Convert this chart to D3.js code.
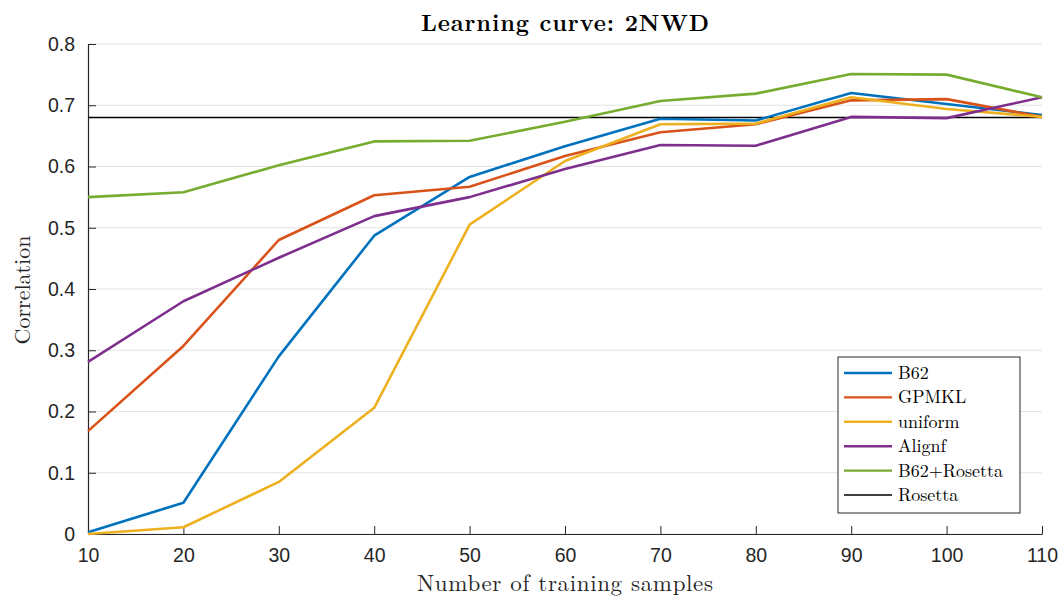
<!DOCTYPE html>
<html>
<head>
<meta charset="utf-8">
<script src="https://d3js.org/d3.v7.min.js"></script>
<style>
  body { margin: 0; background: #fff; }
  .tick text { font-family: "Liberation Sans", Arial, sans-serif; font-size: 19.5px; fill: #262626; }
</style>
</head>
<body>
<script>
var samples = [10, 20, 30, 40, 50, 60, 70, 80, 90, 100, 110];
var b62 = [0.003, 0.051, 0.290, 0.487, 0.583, 0.633, 0.678, 0.675, 0.720, 0.702, 0.684];
var gpmkl = [0.168, 0.307, 0.480, 0.553, 0.567, 0.617, 0.656, 0.669, 0.708, 0.710, 0.681];
var uniform = [0.000, 0.011, 0.085, 0.206, 0.505, 0.609, 0.669, 0.670, 0.713, 0.694, 0.681];
var alignf = [0.281, 0.380, 0.451, 0.519, 0.550, 0.596, 0.635, 0.634, 0.681, 0.679, 0.713];
var b62Rosetta = [0.550, 0.558, 0.602, 0.641, 0.642, 0.673, 0.707, 0.719, 0.751, 0.750, 0.713];
var rosetta = 0.68;
var yTicks = [0, 0.1, 0.2, 0.3, 0.4, 0.5, 0.6, 0.7, 0.8];
var xTicks = [10, 20, 30, 40, 50, 60, 70, 80, 90, 100, 110];

var series = [
  { name: "B62", values: b62, color: "#0072BD" },
  { name: "GPMKL", values: gpmkl, color: "#D95319" },
  { name: "uniform", values: uniform, color: "#EDB120" },
  { name: "Alignf", values: alignf, color: "#7E2F8E" },
  { name: "B62+Rosetta", values: b62Rosetta, color: "#77AC30" }
];

var width = 1060, height = 599,
    plotLeft = 88, plotRight = 1042, plotTop = 44, plotBottom = 534;
var serif = "'Latin Modern Roman', 'DejaVu Serif', 'Liberation Serif', serif";

var svg = d3.select("body").append("svg")
  .attr("width", width).attr("height", height);

var x = d3.scaleLinear().domain([10, 110]).range([plotLeft, plotRight]);
var y = d3.scaleLinear().domain([0, 0.8]).range([plotBottom, plotTop]);

// grid
svg.append("g").selectAll("line").data(yTicks).enter().append("line")
  .attr("x1", plotLeft).attr("x2", plotRight)
  .attr("y1", function(d){ return y(d); }).attr("y2", function(d){ return y(d); })
  .attr("stroke", "#e3e3e3").attr("stroke-width", 1);

// axes
var xAxis = svg.append("g").attr("transform", "translate(0," + plotBottom + ")")
  .call(d3.axisBottom(x).tickValues(xTicks).tickSize(-8).tickPadding(14).tickSizeOuter(0));
var yAxis = svg.append("g").attr("transform", "translate(" + plotLeft + ",0)")
  .call(d3.axisLeft(y).tickValues(yTicks).tickSize(-8).tickPadding(13).tickSizeOuter(0)
    .tickFormat(function(d){ return d === 0 ? "0" : d3.format(".1f")(d); }));
[xAxis, yAxis].forEach(function(a){
  a.select(".domain").attr("stroke", "#262626").attr("stroke-width", 1.2);
  a.selectAll(".tick line").attr("stroke", "#262626").attr("stroke-width", 1);
});

// lines
var line = d3.line()
  .x(function(d, i){ return x(samples[i]); })
  .y(function(d){ return y(d); });

svg.append("line")
  .attr("x1", x(10)).attr("x2", x(110))
  .attr("y1", y(rosetta)).attr("y2", y(rosetta))
  .attr("stroke", "#000").attr("stroke-width", 1.3);

svg.append("g").selectAll("path").data(series).enter().append("path")
  .attr("d", function(d){ return line(d.values); })
  .attr("fill", "none")
  .attr("stroke", function(d){ return d.color; })
  .attr("stroke-width", 2.6)
  .attr("stroke-linejoin", "round");

// title and labels
svg.append("text").attr("x", (plotLeft + plotRight) / 2).attr("y", 31)
  .attr("text-anchor", "middle").attr("font-family", serif)
  .attr("font-weight", "bold").attr("font-size", 23).attr("fill", "#000")
  .attr("textLength", 288).attr("lengthAdjust", "spacing")
  .text("Learning curve: 2NWD");

svg.append("text").attr("x", (plotLeft + plotRight) / 2).attr("y", 591)
  .attr("text-anchor", "middle").attr("font-family", serif)
  .attr("font-size", 23).attr("fill", "#262626")
  .attr("textLength", 296).attr("lengthAdjust", "spacing")
  .text("Number of training samples");

svg.append("text")
  .attr("transform", "translate(30," + ((plotTop + plotBottom) / 2 + 1) + ") rotate(-90)")
  .attr("text-anchor", "middle").attr("font-family", serif)
  .attr("font-size", 22).attr("fill", "#262626")
  .text("Correlation");

// legend
var legendItems = series.concat([{ name: "Rosetta", color: "#000", thin: true }]);
var lg = svg.append("g").attr("transform", "translate(838,357)");
lg.append("rect").attr("width", 182).attr("height", 156)
  .attr("fill", "#fff").attr("stroke", "#262626").attr("stroke-width", 1);
var rows = lg.selectAll("g.row").data(legendItems).enter().append("g")
  .attr("transform", function(d, i){ return "translate(0," + (16 + i * 24.4) + ")"; });
rows.append("line").attr("x1", 6).attr("x2", 54).attr("y1", 0).attr("y2", 0)
  .attr("stroke", function(d){ return d.color; })
  .attr("stroke-width", function(d){ return d.thin ? 1.3 : 2.4; });
rows.append("text").attr("x", 60).attr("y", 6)
  .attr("font-family", serif).attr("font-size", 18).attr("fill", "#000")
  .text(function(d){ return d.name; });
</script>
</body>
</html>
